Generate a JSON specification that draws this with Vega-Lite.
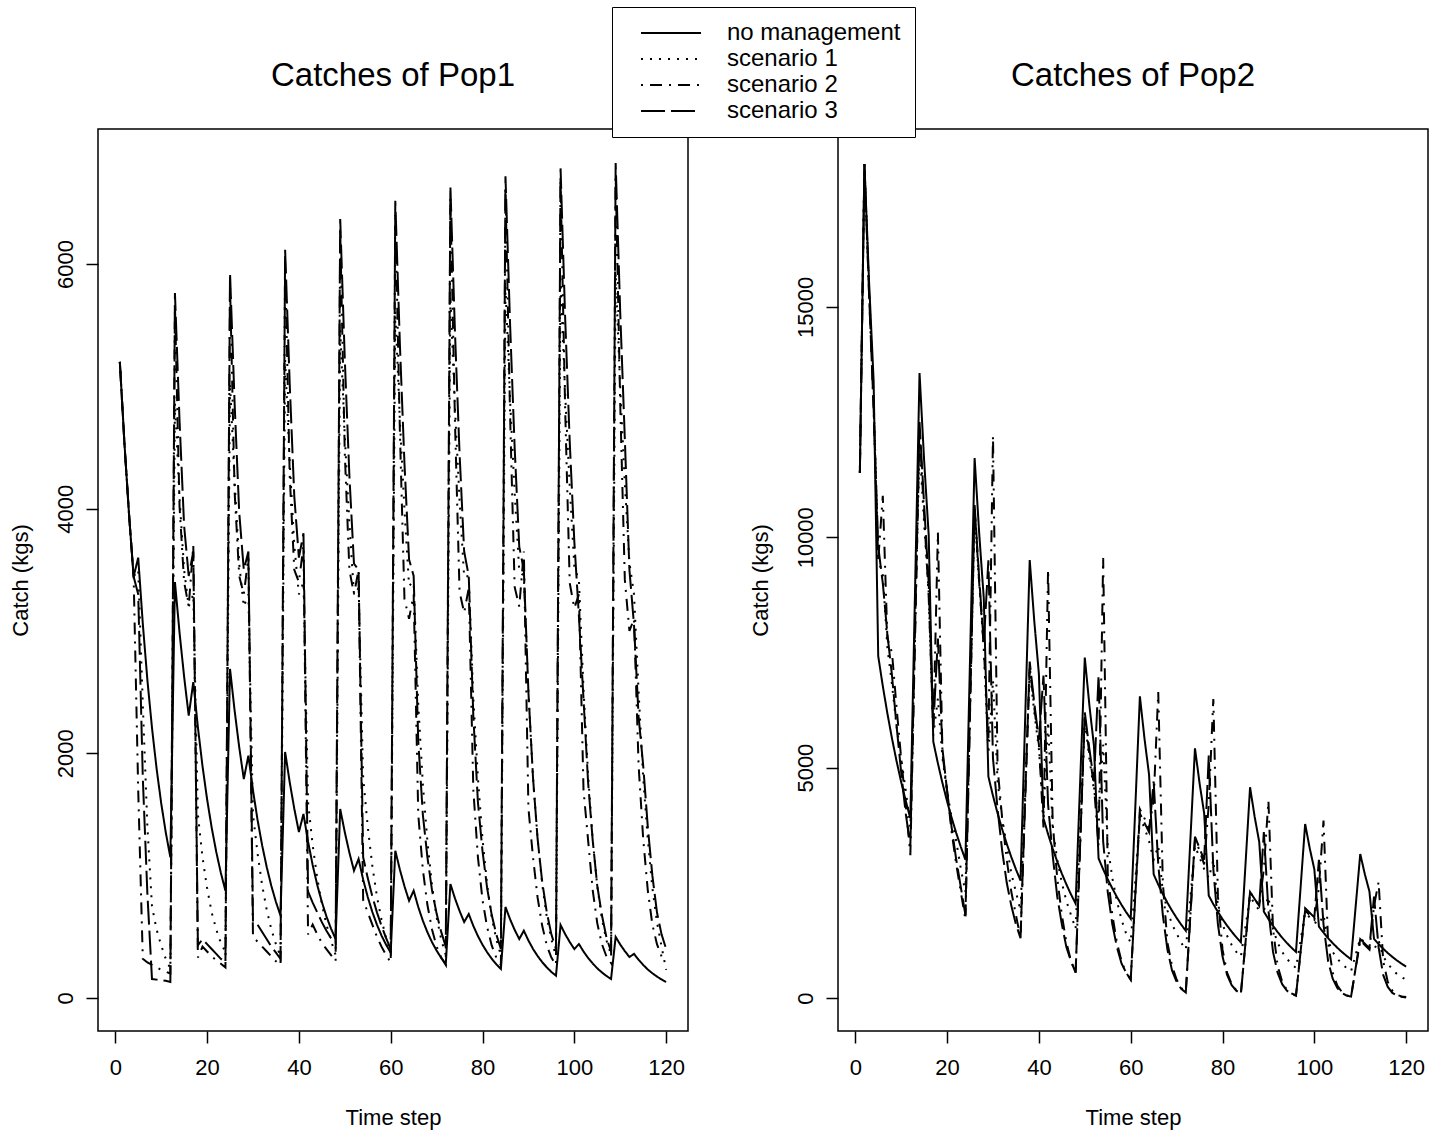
{
"$schema": "https://vega.github.io/schema/vega-lite/v6.json",
"background": "white",
"padding": {"top": 6, "left": 8, "right": 5, "bottom": 5},
"config": {
  "font": "Liberation Sans",
  "view": {"stroke": "black", "strokeWidth": 1.5},
  "axis": {"domain": false, "grid": false, "tickColor": "black", "tickWidth": 1.5, "tickSize": 12, "labelFontSize": 22, "labelColor": "black", "titleFontSize": 22, "titleFontWeight": "normal", "titleColor": "black"},
  "axisX": {"labelPadding": 14, "titlePadding": 29},
  "axisY": {"labelAngle": 270, "labelAlign": "center", "labelBaseline": "bottom", "labelPadding": 9, "titlePadding": 22},
  "title": {"fontSize": 33, "fontWeight": "normal", "color": "black", "anchor": "middle", "offset": 36}
},
"datasets": {
"pop1": [
{"t":1,"s":"no management","v":5200},{"t":2,"s":"no management","v":4534},{"t":3,"s":"no management","v":3954},{"t":4,"s":"no management","v":3445},{"t":5,"s":"no management","v":3600},{"t":6,"s":"no management","v":3059},{"t":7,"s":"no management","v":2599},{"t":8,"s":"no management","v":2208},{"t":9,"s":"no management","v":1876},{"t":10,"s":"no management","v":1594},{"t":11,"s":"no management","v":1354},{"t":12,"s":"no management","v":1150},
{"t":13,"s":"no management","v":3400},{"t":14,"s":"no management","v":2988},{"t":15,"s":"no management","v":2627},{"t":16,"s":"no management","v":2308},{"t":17,"s":"no management","v":2583},{"t":18,"s":"no management","v":2214},{"t":19,"s":"no management","v":1897},{"t":20,"s":"no management","v":1626},{"t":21,"s":"no management","v":1393},{"t":22,"s":"no management","v":1194},{"t":23,"s":"no management","v":1023},{"t":24,"s":"no management","v":877},
{"t":25,"s":"no management","v":2690},{"t":26,"s":"no management","v":2349},{"t":27,"s":"no management","v":2050},{"t":28,"s":"no management","v":1790},{"t":29,"s":"no management","v":1981},{"t":30,"s":"no management","v":1698},{"t":31,"s":"no management","v":1455},{"t":32,"s":"no management","v":1247},{"t":33,"s":"no management","v":1069},{"t":34,"s":"no management","v":916},{"t":35,"s":"no management","v":785},{"t":36,"s":"no management","v":673},
{"t":37,"s":"no management","v":2011},{"t":38,"s":"no management","v":1764},{"t":39,"s":"no management","v":1547},{"t":40,"s":"no management","v":1357},{"t":41,"s":"no management","v":1504},{"t":42,"s":"no management","v":1278},{"t":43,"s":"no management","v":1087},{"t":44,"s":"no management","v":924},{"t":45,"s":"no management","v":785},{"t":46,"s":"no management","v":667},{"t":47,"s":"no management","v":567},{"t":48,"s":"no management","v":482},
{"t":49,"s":"no management","v":1545},{"t":50,"s":"no management","v":1355},{"t":51,"s":"no management","v":1188},{"t":52,"s":"no management","v":1041},{"t":53,"s":"no management","v":1136},{"t":54,"s":"no management","v":968},{"t":55,"s":"no management","v":825},{"t":56,"s":"no management","v":703},{"t":57,"s":"no management","v":599},{"t":58,"s":"no management","v":510},{"t":59,"s":"no management","v":435},{"t":60,"s":"no management","v":370},
{"t":61,"s":"no management","v":1204},{"t":62,"s":"no management","v":1049},{"t":63,"s":"no management","v":913},{"t":64,"s":"no management","v":795},{"t":65,"s":"no management","v":877},{"t":66,"s":"no management","v":744},{"t":67,"s":"no management","v":632},{"t":68,"s":"no management","v":537},{"t":69,"s":"no management","v":456},{"t":70,"s":"no management","v":387},{"t":71,"s":"no management","v":328},{"t":72,"s":"no management","v":278},
{"t":73,"s":"no management","v":932},{"t":74,"s":"no management","v":814},{"t":75,"s":"no management","v":711},{"t":76,"s":"no management","v":621},{"t":77,"s":"no management","v":686},{"t":78,"s":"no management","v":589},{"t":79,"s":"no management","v":506},{"t":80,"s":"no management","v":435},{"t":81,"s":"no management","v":374},{"t":82,"s":"no management","v":321},{"t":83,"s":"no management","v":276},{"t":84,"s":"no management","v":237},
{"t":85,"s":"no management","v":744},{"t":86,"s":"no management","v":644},{"t":87,"s":"no management","v":557},{"t":88,"s":"no management","v":482},{"t":89,"s":"no management","v":550},{"t":90,"s":"no management","v":470},{"t":91,"s":"no management","v":401},{"t":92,"s":"no management","v":343},{"t":93,"s":"no management","v":293},{"t":94,"s":"no management","v":250},{"t":95,"s":"no management","v":213},{"t":96,"s":"no management","v":182},
{"t":97,"s":"no management","v":597},{"t":98,"s":"no management","v":522},{"t":99,"s":"no management","v":457},{"t":100,"s":"no management","v":400},{"t":101,"s":"no management","v":441},{"t":102,"s":"no management","v":380},{"t":103,"s":"no management","v":327},{"t":104,"s":"no management","v":282},{"t":105,"s":"no management","v":242},{"t":106,"s":"no management","v":209},{"t":107,"s":"no management","v":180},{"t":108,"s":"no management","v":155},
{"t":109,"s":"no management","v":499},{"t":110,"s":"no management","v":437},{"t":111,"s":"no management","v":383},{"t":112,"s":"no management","v":335},{"t":113,"s":"no management","v":360},{"t":114,"s":"no management","v":312},{"t":115,"s":"no management","v":270},{"t":116,"s":"no management","v":233},{"t":117,"s":"no management","v":202},{"t":118,"s":"no management","v":175},{"t":119,"s":"no management","v":151},{"t":120,"s":"no management","v":131},
{"t":1,"s":"scenario 1","v":5200},{"t":2,"s":"scenario 1","v":4534},{"t":3,"s":"scenario 1","v":3954},{"t":4,"s":"scenario 1","v":3445},{"t":5,"s":"scenario 1","v":3500},{"t":6,"s":"scenario 1","v":2400},{"t":7,"s":"scenario 1","v":1400},{"t":8,"s":"scenario 1","v":750},{"t":9,"s":"scenario 1","v":560},{"t":10,"s":"scenario 1","v":430},{"t":11,"s":"scenario 1","v":320},{"t":12,"s":"scenario 1","v":240},
{"t":13,"s":"scenario 1","v":4863},{"t":14,"s":"scenario 1","v":4090},{"t":15,"s":"scenario 1","v":3500},{"t":16,"s":"scenario 1","v":3200},{"t":17,"s":"scenario 1","v":3300},{"t":18,"s":"scenario 1","v":1500},{"t":19,"s":"scenario 1","v":1150},{"t":20,"s":"scenario 1","v":900},{"t":21,"s":"scenario 1","v":700},{"t":22,"s":"scenario 1","v":560},{"t":23,"s":"scenario 1","v":450},{"t":24,"s":"scenario 1","v":375},
{"t":25,"s":"scenario 1","v":5026},{"t":26,"s":"scenario 1","v":4220},{"t":27,"s":"scenario 1","v":3550},{"t":28,"s":"scenario 1","v":3200},{"t":29,"s":"scenario 1","v":3300},{"t":30,"s":"scenario 1","v":1500},{"t":31,"s":"scenario 1","v":1180},{"t":32,"s":"scenario 1","v":920},{"t":33,"s":"scenario 1","v":720},{"t":34,"s":"scenario 1","v":560},{"t":35,"s":"scenario 1","v":440},{"t":36,"s":"scenario 1","v":340},
{"t":37,"s":"scenario 1","v":5217},{"t":38,"s":"scenario 1","v":4380},{"t":39,"s":"scenario 1","v":3700},{"t":40,"s":"scenario 1","v":3300},{"t":41,"s":"scenario 1","v":3400},{"t":42,"s":"scenario 1","v":1600},{"t":43,"s":"scenario 1","v":1250},{"t":44,"s":"scenario 1","v":980},{"t":45,"s":"scenario 1","v":770},{"t":46,"s":"scenario 1","v":600},{"t":47,"s":"scenario 1","v":470},{"t":48,"s":"scenario 1","v":350},
{"t":49,"s":"scenario 1","v":5468},{"t":50,"s":"scenario 1","v":4590},{"t":51,"s":"scenario 1","v":3880},{"t":52,"s":"scenario 1","v":3300},{"t":53,"s":"scenario 1","v":3350},{"t":54,"s":"scenario 1","v":1800},{"t":55,"s":"scenario 1","v":1400},{"t":56,"s":"scenario 1","v":1080},{"t":57,"s":"scenario 1","v":830},{"t":58,"s":"scenario 1","v":640},{"t":59,"s":"scenario 1","v":490},{"t":60,"s":"scenario 1","v":370},
{"t":61,"s":"scenario 1","v":5618},{"t":62,"s":"scenario 1","v":4720},{"t":63,"s":"scenario 1","v":3990},{"t":64,"s":"scenario 1","v":3370},{"t":65,"s":"scenario 1","v":3400},{"t":66,"s":"scenario 1","v":2400},{"t":67,"s":"scenario 1","v":1750},{"t":68,"s":"scenario 1","v":1280},{"t":69,"s":"scenario 1","v":920},{"t":70,"s":"scenario 1","v":660},{"t":71,"s":"scenario 1","v":480},{"t":72,"s":"scenario 1","v":350},
{"t":73,"s":"scenario 1","v":5737},{"t":74,"s":"scenario 1","v":4820},{"t":75,"s":"scenario 1","v":4070},{"t":76,"s":"scenario 1","v":3440},{"t":77,"s":"scenario 1","v":3450},{"t":78,"s":"scenario 1","v":2450},{"t":79,"s":"scenario 1","v":1800},{"t":80,"s":"scenario 1","v":1300},{"t":81,"s":"scenario 1","v":930},{"t":82,"s":"scenario 1","v":660},{"t":83,"s":"scenario 1","v":480},{"t":84,"s":"scenario 1","v":350},
{"t":85,"s":"scenario 1","v":5817},{"t":86,"s":"scenario 1","v":4890},{"t":87,"s":"scenario 1","v":4130},{"t":88,"s":"scenario 1","v":3490},{"t":89,"s":"scenario 1","v":3450},{"t":90,"s":"scenario 1","v":2500},{"t":91,"s":"scenario 1","v":1800},{"t":92,"s":"scenario 1","v":1300},{"t":93,"s":"scenario 1","v":930},{"t":94,"s":"scenario 1","v":660},{"t":95,"s":"scenario 1","v":480},{"t":96,"s":"scenario 1","v":340},
{"t":97,"s":"scenario 1","v":5882},{"t":98,"s":"scenario 1","v":4941},{"t":99,"s":"scenario 1","v":4176},{"t":100,"s":"scenario 1","v":3529},{"t":101,"s":"scenario 1","v":3412},{"t":102,"s":"scenario 1","v":2529},{"t":103,"s":"scenario 1","v":1823},{"t":104,"s":"scenario 1","v":1294},{"t":105,"s":"scenario 1","v":912},{"t":106,"s":"scenario 1","v":647},{"t":107,"s":"scenario 1","v":471},{"t":108,"s":"scenario 1","v":353},
{"t":109,"s":"scenario 1","v":5926},{"t":110,"s":"scenario 1","v":4980},{"t":111,"s":"scenario 1","v":4210},{"t":112,"s":"scenario 1","v":3560},{"t":113,"s":"scenario 1","v":3300},{"t":114,"s":"scenario 1","v":2500},{"t":115,"s":"scenario 1","v":1800},{"t":116,"s":"scenario 1","v":1300},{"t":117,"s":"scenario 1","v":900},{"t":118,"s":"scenario 1","v":620},{"t":119,"s":"scenario 1","v":420},{"t":120,"s":"scenario 1","v":230},
{"t":1,"s":"scenario 2","v":5200},{"t":2,"s":"scenario 2","v":4534},{"t":3,"s":"scenario 2","v":3954},{"t":4,"s":"scenario 2","v":3445},{"t":5,"s":"scenario 2","v":1700},{"t":6,"s":"scenario 2","v":320},{"t":7,"s":"scenario 2","v":290},{"t":8,"s":"scenario 2","v":270},{"t":9,"s":"scenario 2","v":250},{"t":10,"s":"scenario 2","v":230},{"t":11,"s":"scenario 2","v":215},{"t":12,"s":"scenario 2","v":200},
{"t":13,"s":"scenario 2","v":5663},{"t":14,"s":"scenario 2","v":4020},{"t":15,"s":"scenario 2","v":3400},{"t":16,"s":"scenario 2","v":3200},{"t":17,"s":"scenario 2","v":3700},{"t":18,"s":"scenario 2","v":330},{"t":19,"s":"scenario 2","v":420},{"t":20,"s":"scenario 2","v":380},{"t":21,"s":"scenario 2","v":340},{"t":22,"s":"scenario 2","v":310},{"t":23,"s":"scenario 2","v":280},{"t":24,"s":"scenario 2","v":250},
{"t":25,"s":"scenario 2","v":5826},{"t":26,"s":"scenario 2","v":4140},{"t":27,"s":"scenario 2","v":3450},{"t":28,"s":"scenario 2","v":3300},{"t":29,"s":"scenario 2","v":3600},{"t":30,"s":"scenario 2","v":500},{"t":31,"s":"scenario 2","v":460},{"t":32,"s":"scenario 2","v":420},{"t":33,"s":"scenario 2","v":380},{"t":34,"s":"scenario 2","v":340},{"t":35,"s":"scenario 2","v":300},{"t":36,"s":"scenario 2","v":270},
{"t":37,"s":"scenario 2","v":6017},{"t":38,"s":"scenario 2","v":4270},{"t":39,"s":"scenario 2","v":3500},{"t":40,"s":"scenario 2","v":3400},{"t":41,"s":"scenario 2","v":3700},{"t":42,"s":"scenario 2","v":520},{"t":43,"s":"scenario 2","v":600},{"t":44,"s":"scenario 2","v":520},{"t":45,"s":"scenario 2","v":450},{"t":46,"s":"scenario 2","v":400},{"t":47,"s":"scenario 2","v":350},{"t":48,"s":"scenario 2","v":300},
{"t":49,"s":"scenario 2","v":6268},{"t":50,"s":"scenario 2","v":4450},{"t":51,"s":"scenario 2","v":3500},{"t":52,"s":"scenario 2","v":3300},{"t":53,"s":"scenario 2","v":3500},{"t":54,"s":"scenario 2","v":800},{"t":55,"s":"scenario 2","v":700},{"t":56,"s":"scenario 2","v":600},{"t":57,"s":"scenario 2","v":500},{"t":58,"s":"scenario 2","v":420},{"t":59,"s":"scenario 2","v":350},{"t":60,"s":"scenario 2","v":290},
{"t":61,"s":"scenario 2","v":6418},{"t":62,"s":"scenario 2","v":4630},{"t":63,"s":"scenario 2","v":3260},{"t":64,"s":"scenario 2","v":3100},{"t":65,"s":"scenario 2","v":3300},{"t":66,"s":"scenario 2","v":1500},{"t":67,"s":"scenario 2","v":1050},{"t":68,"s":"scenario 2","v":760},{"t":69,"s":"scenario 2","v":560},{"t":70,"s":"scenario 2","v":420},{"t":71,"s":"scenario 2","v":330},{"t":72,"s":"scenario 2","v":270},
{"t":73,"s":"scenario 2","v":6537},{"t":74,"s":"scenario 2","v":4710},{"t":75,"s":"scenario 2","v":3320},{"t":76,"s":"scenario 2","v":3150},{"t":77,"s":"scenario 2","v":3350},{"t":78,"s":"scenario 2","v":1700},{"t":79,"s":"scenario 2","v":1150},{"t":80,"s":"scenario 2","v":800},{"t":81,"s":"scenario 2","v":580},{"t":82,"s":"scenario 2","v":430},{"t":83,"s":"scenario 2","v":330},{"t":84,"s":"scenario 2","v":270},
{"t":85,"s":"scenario 2","v":6617},{"t":86,"s":"scenario 2","v":4770},{"t":87,"s":"scenario 2","v":3360},{"t":88,"s":"scenario 2","v":3200},{"t":89,"s":"scenario 2","v":3650},{"t":90,"s":"scenario 2","v":1550},{"t":91,"s":"scenario 2","v":1150},{"t":92,"s":"scenario 2","v":820},{"t":93,"s":"scenario 2","v":590},{"t":94,"s":"scenario 2","v":430},{"t":95,"s":"scenario 2","v":330},{"t":96,"s":"scenario 2","v":270},
{"t":97,"s":"scenario 2","v":6682},{"t":98,"s":"scenario 2","v":4815},{"t":99,"s":"scenario 2","v":3391},{"t":100,"s":"scenario 2","v":3187},{"t":101,"s":"scenario 2","v":3300},{"t":102,"s":"scenario 2","v":1700},{"t":103,"s":"scenario 2","v":1289},{"t":104,"s":"scenario 2","v":882},{"t":105,"s":"scenario 2","v":610},{"t":106,"s":"scenario 2","v":441},{"t":107,"s":"scenario 2","v":339},{"t":108,"s":"scenario 2","v":285},
{"t":109,"s":"scenario 2","v":6726},{"t":110,"s":"scenario 2","v":4850},{"t":111,"s":"scenario 2","v":3420},{"t":112,"s":"scenario 2","v":3000},{"t":113,"s":"scenario 2","v":3100},{"t":114,"s":"scenario 2","v":1900},{"t":115,"s":"scenario 2","v":1300},{"t":116,"s":"scenario 2","v":880},{"t":117,"s":"scenario 2","v":600},{"t":118,"s":"scenario 2","v":440},{"t":119,"s":"scenario 2","v":340},{"t":120,"s":"scenario 2","v":300},
{"t":1,"s":"scenario 3","v":5200},{"t":2,"s":"scenario 3","v":4534},{"t":3,"s":"scenario 3","v":3954},{"t":4,"s":"scenario 3","v":3445},{"t":5,"s":"scenario 3","v":3300},{"t":6,"s":"scenario 3","v":1800},{"t":7,"s":"scenario 3","v":850},{"t":8,"s":"scenario 3","v":155},{"t":9,"s":"scenario 3","v":150},{"t":10,"s":"scenario 3","v":145},{"t":11,"s":"scenario 3","v":140},{"t":12,"s":"scenario 3","v":130},
{"t":13,"s":"scenario 3","v":5763},{"t":14,"s":"scenario 3","v":4720},{"t":15,"s":"scenario 3","v":3860},{"t":16,"s":"scenario 3","v":3450},{"t":17,"s":"scenario 3","v":3650},{"t":18,"s":"scenario 3","v":430},{"t":19,"s":"scenario 3","v":480},{"t":20,"s":"scenario 3","v":440},{"t":21,"s":"scenario 3","v":400},{"t":22,"s":"scenario 3","v":360},{"t":23,"s":"scenario 3","v":320},{"t":24,"s":"scenario 3","v":290},
{"t":25,"s":"scenario 3","v":5926},{"t":26,"s":"scenario 3","v":4860},{"t":27,"s":"scenario 3","v":3970},{"t":28,"s":"scenario 3","v":3500},{"t":29,"s":"scenario 3","v":3650},{"t":30,"s":"scenario 3","v":620},{"t":31,"s":"scenario 3","v":600},{"t":32,"s":"scenario 3","v":540},{"t":33,"s":"scenario 3","v":480},{"t":34,"s":"scenario 3","v":420},{"t":35,"s":"scenario 3","v":370},{"t":36,"s":"scenario 3","v":320},
{"t":37,"s":"scenario 3","v":6117},{"t":38,"s":"scenario 3","v":5020},{"t":39,"s":"scenario 3","v":4100},{"t":40,"s":"scenario 3","v":3600},{"t":41,"s":"scenario 3","v":3800},{"t":42,"s":"scenario 3","v":870},{"t":43,"s":"scenario 3","v":780},{"t":44,"s":"scenario 3","v":700},{"t":45,"s":"scenario 3","v":620},{"t":46,"s":"scenario 3","v":550},{"t":47,"s":"scenario 3","v":490},{"t":48,"s":"scenario 3","v":450},
{"t":49,"s":"scenario 3","v":6368},{"t":50,"s":"scenario 3","v":5220},{"t":51,"s":"scenario 3","v":4270},{"t":52,"s":"scenario 3","v":3550},{"t":53,"s":"scenario 3","v":3500},{"t":54,"s":"scenario 3","v":1150},{"t":55,"s":"scenario 3","v":980},{"t":56,"s":"scenario 3","v":830},{"t":57,"s":"scenario 3","v":700},{"t":58,"s":"scenario 3","v":590},{"t":59,"s":"scenario 3","v":490},{"t":60,"s":"scenario 3","v":400},
{"t":61,"s":"scenario 3","v":6518},{"t":62,"s":"scenario 3","v":5345},{"t":63,"s":"scenario 3","v":4367},{"t":64,"s":"scenario 3","v":3585},{"t":65,"s":"scenario 3","v":3450},{"t":66,"s":"scenario 3","v":2100},{"t":67,"s":"scenario 3","v":1500},{"t":68,"s":"scenario 3","v":1150},{"t":69,"s":"scenario 3","v":880},{"t":70,"s":"scenario 3","v":690},{"t":71,"s":"scenario 3","v":540},{"t":72,"s":"scenario 3","v":420},
{"t":73,"s":"scenario 3","v":6637},{"t":74,"s":"scenario 3","v":5440},{"t":75,"s":"scenario 3","v":4450},{"t":76,"s":"scenario 3","v":3650},{"t":77,"s":"scenario 3","v":3450},{"t":78,"s":"scenario 3","v":2300},{"t":79,"s":"scenario 3","v":1600},{"t":80,"s":"scenario 3","v":1200},{"t":81,"s":"scenario 3","v":900},{"t":82,"s":"scenario 3","v":680},{"t":83,"s":"scenario 3","v":520},{"t":84,"s":"scenario 3","v":400},
{"t":85,"s":"scenario 3","v":6717},{"t":86,"s":"scenario 3","v":5510},{"t":87,"s":"scenario 3","v":4500},{"t":88,"s":"scenario 3","v":3690},{"t":89,"s":"scenario 3","v":3500},{"t":90,"s":"scenario 3","v":2500},{"t":91,"s":"scenario 3","v":1800},{"t":92,"s":"scenario 3","v":1300},{"t":93,"s":"scenario 3","v":950},{"t":94,"s":"scenario 3","v":700},{"t":95,"s":"scenario 3","v":520},{"t":96,"s":"scenario 3","v":400},
{"t":97,"s":"scenario 3","v":6782},{"t":98,"s":"scenario 3","v":5561},{"t":99,"s":"scenario 3","v":4544},{"t":100,"s":"scenario 3","v":3730},{"t":101,"s":"scenario 3","v":3120},{"t":102,"s":"scenario 3","v":2442},{"t":103,"s":"scenario 3","v":1763},{"t":104,"s":"scenario 3","v":1289},{"t":105,"s":"scenario 3","v":916},{"t":106,"s":"scenario 3","v":678},{"t":107,"s":"scenario 3","v":495},{"t":108,"s":"scenario 3","v":380},
{"t":109,"s":"scenario 3","v":6826},{"t":110,"s":"scenario 3","v":5600},{"t":111,"s":"scenario 3","v":4570},{"t":112,"s":"scenario 3","v":3500},{"t":113,"s":"scenario 3","v":3050},{"t":114,"s":"scenario 3","v":2300},{"t":115,"s":"scenario 3","v":1900},{"t":116,"s":"scenario 3","v":1400},{"t":117,"s":"scenario 3","v":1000},{"t":118,"s":"scenario 3","v":700},{"t":119,"s":"scenario 3","v":520},{"t":120,"s":"scenario 3","v":400}
],
"pop2": [
{"t":1,"s":"no management","v":11400},{"t":2,"s":"no management","v":18100},{"t":3,"s":"no management","v":15566},{"t":4,"s":"no management","v":13394},{"t":5,"s":"no management","v":7421},{"t":6,"s":"no management","v":6770},{"t":7,"s":"no management","v":6175},{"t":8,"s":"no management","v":5633},{"t":9,"s":"no management","v":5139},{"t":10,"s":"no management","v":4688},{"t":11,"s":"no management","v":4276},{"t":12,"s":"no management","v":3900},{"t":13,"s":"no management","v":8733},
{"t":14,"s":"no management","v":13566},{"t":15,"s":"no management","v":11667},{"t":16,"s":"no management","v":10039},{"t":17,"s":"no management","v":5562},{"t":18,"s":"no management","v":5093},{"t":19,"s":"no management","v":4663},{"t":20,"s":"no management","v":4269},{"t":21,"s":"no management","v":3909},{"t":22,"s":"no management","v":3579},{"t":23,"s":"no management","v":3277},{"t":24,"s":"no management","v":3000},{"t":25,"s":"no management","v":7360},
{"t":26,"s":"no management","v":11720},{"t":27,"s":"no management","v":10079},{"t":28,"s":"no management","v":8673},{"t":29,"s":"no management","v":4805},{"t":30,"s":"no management","v":4389},{"t":31,"s":"no management","v":4010},{"t":32,"s":"no management","v":3663},{"t":33,"s":"no management","v":3346},{"t":34,"s":"no management","v":3057},{"t":35,"s":"no management","v":2792},{"t":36,"s":"no management","v":2550},{"t":37,"s":"no management","v":6029},
{"t":38,"s":"no management","v":9507},{"t":39,"s":"no management","v":8176},{"t":40,"s":"no management","v":7035},{"t":41,"s":"no management","v":3898},{"t":42,"s":"no management","v":3556},{"t":43,"s":"no management","v":3244},{"t":44,"s":"no management","v":2960},{"t":45,"s":"no management","v":2700},{"t":46,"s":"no management","v":2463},{"t":47,"s":"no management","v":2247},{"t":48,"s":"no management","v":2050},{"t":49,"s":"no management","v":4719},
{"t":50,"s":"no management","v":7388},{"t":51,"s":"no management","v":6354},{"t":52,"s":"no management","v":5467},{"t":53,"s":"no management","v":3029},{"t":54,"s":"no management","v":2794},{"t":55,"s":"no management","v":2577},{"t":56,"s":"no management","v":2377},{"t":57,"s":"no management","v":2192},{"t":58,"s":"no management","v":2022},{"t":59,"s":"no management","v":1865},{"t":60,"s":"no management","v":1720},{"t":61,"s":"no management","v":4135},
{"t":62,"s":"no management","v":6549},{"t":63,"s":"no management","v":5632},{"t":64,"s":"no management","v":4846},{"t":65,"s":"no management","v":2685},{"t":66,"s":"no management","v":2461},{"t":67,"s":"no management","v":2256},{"t":68,"s":"no management","v":2068},{"t":69,"s":"no management","v":1896},{"t":70,"s":"no management","v":1738},{"t":71,"s":"no management","v":1593},{"t":72,"s":"no management","v":1460},{"t":73,"s":"no management","v":3440},
{"t":74,"s":"no management","v":5420},{"t":75,"s":"no management","v":4661},{"t":76,"s":"no management","v":4011},{"t":77,"s":"no management","v":2222},{"t":78,"s":"no management","v":2037},{"t":79,"s":"no management","v":1868},{"t":80,"s":"no management","v":1712},{"t":81,"s":"no management","v":1570},{"t":82,"s":"no management","v":1439},{"t":83,"s":"no management","v":1320},{"t":84,"s":"no management","v":1210},{"t":85,"s":"no management","v":2892},
{"t":86,"s":"no management","v":4574},{"t":87,"s":"no management","v":3934},{"t":88,"s":"no management","v":3385},{"t":89,"s":"no management","v":1875},{"t":90,"s":"no management","v":1714},{"t":91,"s":"no management","v":1567},{"t":92,"s":"no management","v":1432},{"t":93,"s":"no management","v":1309},{"t":94,"s":"no management","v":1197},{"t":95,"s":"no management","v":1094},{"t":96,"s":"no management","v":1000},{"t":97,"s":"no management","v":2389},
{"t":98,"s":"no management","v":3777},{"t":99,"s":"no management","v":3248},{"t":100,"s":"no management","v":2795},{"t":101,"s":"no management","v":1549},{"t":102,"s":"no management","v":1419},{"t":103,"s":"no management","v":1300},{"t":104,"s":"no management","v":1191},{"t":105,"s":"no management","v":1092},{"t":106,"s":"no management","v":1000},{"t":107,"s":"no management","v":917},{"t":108,"s":"no management","v":840},{"t":109,"s":"no management","v":1983},
{"t":110,"s":"no management","v":3126},{"t":111,"s":"no management","v":2688},{"t":112,"s":"no management","v":2313},{"t":113,"s":"no management","v":1282},{"t":114,"s":"no management","v":1171},{"t":115,"s":"no management","v":1070},{"t":116,"s":"no management","v":977},{"t":117,"s":"no management","v":892},{"t":118,"s":"no management","v":815},{"t":119,"s":"no management","v":745},{"t":120,"s":"no management","v":680},
{"t":1,"s":"scenario 1","v":11400},{"t":2,"s":"scenario 1","v":18100},{"t":3,"s":"scenario 1","v":15400},{"t":4,"s":"scenario 1","v":13000},{"t":5,"s":"scenario 1","v":9500},{"t":6,"s":"scenario 1","v":9200},{"t":7,"s":"scenario 1","v":7600},{"t":8,"s":"scenario 1","v":6800},{"t":9,"s":"scenario 1","v":5900},{"t":10,"s":"scenario 1","v":5200},{"t":11,"s":"scenario 1","v":4500},{"t":12,"s":"scenario 1","v":3700},{"t":13,"s":"scenario 1","v":7850},
{"t":14,"s":"scenario 1","v":12000},{"t":15,"s":"scenario 1","v":10300},{"t":16,"s":"scenario 1","v":8800},{"t":17,"s":"scenario 1","v":5700},{"t":18,"s":"scenario 1","v":6500},{"t":19,"s":"scenario 1","v":5200},{"t":20,"s":"scenario 1","v":4500},{"t":21,"s":"scenario 1","v":3900},{"t":22,"s":"scenario 1","v":3400},{"t":23,"s":"scenario 1","v":2800},{"t":24,"s":"scenario 1","v":2300},{"t":25,"s":"scenario 1","v":6400},
{"t":26,"s":"scenario 1","v":10500},{"t":27,"s":"scenario 1","v":9000},{"t":28,"s":"scenario 1","v":7600},{"t":29,"s":"scenario 1","v":5300},{"t":30,"s":"scenario 1","v":6900},{"t":31,"s":"scenario 1","v":4700},{"t":32,"s":"scenario 1","v":3900},{"t":33,"s":"scenario 1","v":3300},{"t":34,"s":"scenario 1","v":2700},{"t":35,"s":"scenario 1","v":2300},{"t":36,"s":"scenario 1","v":1900},{"t":37,"s":"scenario 1","v":4500},
{"t":38,"s":"scenario 1","v":7100},{"t":39,"s":"scenario 1","v":6200},{"t":40,"s":"scenario 1","v":5400},{"t":41,"s":"scenario 1","v":4000},{"t":42,"s":"scenario 1","v":6000},{"t":43,"s":"scenario 1","v":3700},{"t":44,"s":"scenario 1","v":3000},{"t":45,"s":"scenario 1","v":2500},{"t":46,"s":"scenario 1","v":2100},{"t":47,"s":"scenario 1","v":1800},{"t":48,"s":"scenario 1","v":1500},{"t":49,"s":"scenario 1","v":3750},
{"t":50,"s":"scenario 1","v":6000},{"t":51,"s":"scenario 1","v":5200},{"t":52,"s":"scenario 1","v":4500},{"t":53,"s":"scenario 1","v":4000},{"t":54,"s":"scenario 1","v":5500},{"t":55,"s":"scenario 1","v":3300},{"t":56,"s":"scenario 1","v":2600},{"t":57,"s":"scenario 1","v":2100},{"t":58,"s":"scenario 1","v":1700},{"t":59,"s":"scenario 1","v":1400},{"t":60,"s":"scenario 1","v":1200},{"t":61,"s":"scenario 1","v":2550},
{"t":62,"s":"scenario 1","v":3900},{"t":63,"s":"scenario 1","v":3700},{"t":64,"s":"scenario 1","v":3400},{"t":65,"s":"scenario 1","v":3000},{"t":66,"s":"scenario 1","v":3300},{"t":67,"s":"scenario 1","v":2300},{"t":68,"s":"scenario 1","v":1900},{"t":69,"s":"scenario 1","v":1600},{"t":70,"s":"scenario 1","v":1400},{"t":71,"s":"scenario 1","v":1200},{"t":72,"s":"scenario 1","v":1050},{"t":73,"s":"scenario 1","v":2175},
{"t":74,"s":"scenario 1","v":3300},{"t":75,"s":"scenario 1","v":3050},{"t":76,"s":"scenario 1","v":2800},{"t":77,"s":"scenario 1","v":2600},{"t":78,"s":"scenario 1","v":3000},{"t":79,"s":"scenario 1","v":2000},{"t":80,"s":"scenario 1","v":1600},{"t":81,"s":"scenario 1","v":1350},{"t":82,"s":"scenario 1","v":1150},{"t":83,"s":"scenario 1","v":1000},{"t":84,"s":"scenario 1","v":900},{"t":85,"s":"scenario 1","v":1550},
{"t":86,"s":"scenario 1","v":2200},{"t":87,"s":"scenario 1","v":2050},{"t":88,"s":"scenario 1","v":1900},{"t":89,"s":"scenario 1","v":1900},{"t":90,"s":"scenario 1","v":2200},{"t":91,"s":"scenario 1","v":1500},{"t":92,"s":"scenario 1","v":1200},{"t":93,"s":"scenario 1","v":1000},{"t":94,"s":"scenario 1","v":850},{"t":95,"s":"scenario 1","v":750},{"t":96,"s":"scenario 1","v":650},{"t":97,"s":"scenario 1","v":1250},
{"t":98,"s":"scenario 1","v":1850},{"t":99,"s":"scenario 1","v":1750},{"t":100,"s":"scenario 1","v":1650},{"t":101,"s":"scenario 1","v":1600},{"t":102,"s":"scenario 1","v":1800},{"t":103,"s":"scenario 1","v":1250},{"t":104,"s":"scenario 1","v":1000},{"t":105,"s":"scenario 1","v":850},{"t":106,"s":"scenario 1","v":750},{"t":107,"s":"scenario 1","v":650},{"t":108,"s":"scenario 1","v":580},{"t":109,"s":"scenario 1","v":940},
{"t":110,"s":"scenario 1","v":1300},{"t":111,"s":"scenario 1","v":1200},{"t":112,"s":"scenario 1","v":1100},{"t":113,"s":"scenario 1","v":1050},{"t":114,"s":"scenario 1","v":1250},{"t":115,"s":"scenario 1","v":900},{"t":116,"s":"scenario 1","v":750},{"t":117,"s":"scenario 1","v":620},{"t":118,"s":"scenario 1","v":520},{"t":119,"s":"scenario 1","v":450},{"t":120,"s":"scenario 1","v":400},
{"t":1,"s":"scenario 2","v":11400},{"t":2,"s":"scenario 2","v":18100},{"t":3,"s":"scenario 2","v":15300},{"t":4,"s":"scenario 2","v":12800},{"t":5,"s":"scenario 2","v":9500},{"t":6,"s":"scenario 2","v":10900},{"t":7,"s":"scenario 2","v":7800},{"t":8,"s":"scenario 2","v":7500},{"t":9,"s":"scenario 2","v":6300},{"t":10,"s":"scenario 2","v":5200},{"t":11,"s":"scenario 2","v":4200},{"t":12,"s":"scenario 2","v":3100},{"t":13,"s":"scenario 2","v":7700},
{"t":14,"s":"scenario 2","v":12300},{"t":15,"s":"scenario 2","v":10500},{"t":16,"s":"scenario 2","v":8700},{"t":17,"s":"scenario 2","v":5800},{"t":18,"s":"scenario 2","v":10100},{"t":19,"s":"scenario 2","v":5300},{"t":20,"s":"scenario 2","v":4500},{"t":21,"s":"scenario 2","v":3600},{"t":22,"s":"scenario 2","v":2900},{"t":23,"s":"scenario 2","v":2300},{"t":24,"s":"scenario 2","v":1700},{"t":25,"s":"scenario 2","v":6175},
{"t":26,"s":"scenario 2","v":10650},{"t":27,"s":"scenario 2","v":9000},{"t":28,"s":"scenario 2","v":7600},{"t":29,"s":"scenario 2","v":5600},{"t":30,"s":"scenario 2","v":12200},{"t":31,"s":"scenario 2","v":5000},{"t":32,"s":"scenario 2","v":3900},{"t":33,"s":"scenario 2","v":3000},{"t":34,"s":"scenario 2","v":2300},{"t":35,"s":"scenario 2","v":1800},{"t":36,"s":"scenario 2","v":1300},{"t":37,"s":"scenario 2","v":4250},
{"t":38,"s":"scenario 2","v":7200},{"t":39,"s":"scenario 2","v":6300},{"t":40,"s":"scenario 2","v":5500},{"t":41,"s":"scenario 2","v":3700},{"t":42,"s":"scenario 2","v":9300},{"t":43,"s":"scenario 2","v":3800},{"t":44,"s":"scenario 2","v":2600},{"t":45,"s":"scenario 2","v":1800},{"t":46,"s":"scenario 2","v":1200},{"t":47,"s":"scenario 2","v":800},{"t":48,"s":"scenario 2","v":550},{"t":49,"s":"scenario 2","v":3325},
{"t":50,"s":"scenario 2","v":6100},{"t":51,"s":"scenario 2","v":5300},{"t":52,"s":"scenario 2","v":4600},{"t":53,"s":"scenario 2","v":3300},{"t":54,"s":"scenario 2","v":9550},{"t":55,"s":"scenario 2","v":2700},{"t":56,"s":"scenario 2","v":1800},{"t":57,"s":"scenario 2","v":1200},{"t":58,"s":"scenario 2","v":800},{"t":59,"s":"scenario 2","v":550},{"t":60,"s":"scenario 2","v":400},{"t":61,"s":"scenario 2","v":2250},
{"t":62,"s":"scenario 2","v":4100},{"t":63,"s":"scenario 2","v":3900},{"t":64,"s":"scenario 2","v":3670},{"t":65,"s":"scenario 2","v":4300},{"t":66,"s":"scenario 2","v":6640},{"t":67,"s":"scenario 2","v":2500},{"t":68,"s":"scenario 2","v":1200},{"t":69,"s":"scenario 2","v":700},{"t":70,"s":"scenario 2","v":400},{"t":71,"s":"scenario 2","v":220},{"t":72,"s":"scenario 2","v":130},{"t":73,"s":"scenario 2","v":1790},
{"t":74,"s":"scenario 2","v":3450},{"t":75,"s":"scenario 2","v":3200},{"t":76,"s":"scenario 2","v":2900},{"t":77,"s":"scenario 2","v":4200},{"t":78,"s":"scenario 2","v":6490},{"t":79,"s":"scenario 2","v":2200},{"t":80,"s":"scenario 2","v":1050},{"t":81,"s":"scenario 2","v":550},{"t":82,"s":"scenario 2","v":300},{"t":83,"s":"scenario 2","v":170},{"t":84,"s":"scenario 2","v":100},{"t":85,"s":"scenario 2","v":1200},
{"t":86,"s":"scenario 2","v":2300},{"t":87,"s":"scenario 2","v":2150},{"t":88,"s":"scenario 2","v":2000},{"t":89,"s":"scenario 2","v":2800},{"t":90,"s":"scenario 2","v":4280},{"t":91,"s":"scenario 2","v":1500},{"t":92,"s":"scenario 2","v":700},{"t":93,"s":"scenario 2","v":350},{"t":94,"s":"scenario 2","v":180},{"t":95,"s":"scenario 2","v":100},{"t":96,"s":"scenario 2","v":60},{"t":97,"s":"scenario 2","v":980},
{"t":98,"s":"scenario 2","v":1900},{"t":99,"s":"scenario 2","v":1800},{"t":100,"s":"scenario 2","v":1700},{"t":101,"s":"scenario 2","v":2400},{"t":102,"s":"scenario 2","v":3850},{"t":103,"s":"scenario 2","v":1200},{"t":104,"s":"scenario 2","v":550},{"t":105,"s":"scenario 2","v":270},{"t":106,"s":"scenario 2","v":130},{"t":107,"s":"scenario 2","v":60},{"t":108,"s":"scenario 2","v":30},{"t":109,"s":"scenario 2","v":640},
{"t":110,"s":"scenario 2","v":1250},{"t":111,"s":"scenario 2","v":1150},{"t":112,"s":"scenario 2","v":1050},{"t":113,"s":"scenario 2","v":2000},{"t":114,"s":"scenario 2","v":2520},{"t":115,"s":"scenario 2","v":800},{"t":116,"s":"scenario 2","v":350},{"t":117,"s":"scenario 2","v":160},{"t":118,"s":"scenario 2","v":70},{"t":119,"s":"scenario 2","v":35},{"t":120,"s":"scenario 2","v":20},
{"t":1,"s":"scenario 3","v":11400},{"t":2,"s":"scenario 3","v":18100},{"t":3,"s":"scenario 3","v":15300},{"t":4,"s":"scenario 3","v":12800},{"t":5,"s":"scenario 3","v":9800},{"t":6,"s":"scenario 3","v":9000},{"t":7,"s":"scenario 3","v":7900},{"t":8,"s":"scenario 3","v":7000},{"t":9,"s":"scenario 3","v":5900},{"t":10,"s":"scenario 3","v":4900},{"t":11,"s":"scenario 3","v":4000},{"t":12,"s":"scenario 3","v":3300},{"t":13,"s":"scenario 3","v":7900},
{"t":14,"s":"scenario 3","v":12500},{"t":15,"s":"scenario 3","v":10700},{"t":16,"s":"scenario 3","v":9000},{"t":17,"s":"scenario 3","v":5900},{"t":18,"s":"scenario 3","v":7800},{"t":19,"s":"scenario 3","v":5400},{"t":20,"s":"scenario 3","v":4500},{"t":21,"s":"scenario 3","v":3700},{"t":22,"s":"scenario 3","v":3000},{"t":23,"s":"scenario 3","v":2400},{"t":24,"s":"scenario 3","v":1800},{"t":25,"s":"scenario 3","v":6250},
{"t":26,"s":"scenario 3","v":10700},{"t":27,"s":"scenario 3","v":9100},{"t":28,"s":"scenario 3","v":7700},{"t":29,"s":"scenario 3","v":9500},{"t":30,"s":"scenario 3","v":5200},{"t":31,"s":"scenario 3","v":4100},{"t":32,"s":"scenario 3","v":3200},{"t":33,"s":"scenario 3","v":2500},{"t":34,"s":"scenario 3","v":2000},{"t":35,"s":"scenario 3","v":1600},{"t":36,"s":"scenario 3","v":1300},{"t":37,"s":"scenario 3","v":4300},
{"t":38,"s":"scenario 3","v":7300},{"t":39,"s":"scenario 3","v":6400},{"t":40,"s":"scenario 3","v":5600},{"t":41,"s":"scenario 3","v":7000},{"t":42,"s":"scenario 3","v":4200},{"t":43,"s":"scenario 3","v":3100},{"t":44,"s":"scenario 3","v":2200},{"t":45,"s":"scenario 3","v":1600},{"t":46,"s":"scenario 3","v":1100},{"t":47,"s":"scenario 3","v":800},{"t":48,"s":"scenario 3","v":550},{"t":49,"s":"scenario 3","v":3375},
{"t":50,"s":"scenario 3","v":6200},{"t":51,"s":"scenario 3","v":5400},{"t":52,"s":"scenario 3","v":4700},{"t":53,"s":"scenario 3","v":7000},{"t":54,"s":"scenario 3","v":3400},{"t":55,"s":"scenario 3","v":2300},{"t":56,"s":"scenario 3","v":1600},{"t":57,"s":"scenario 3","v":1100},{"t":58,"s":"scenario 3","v":750},{"t":59,"s":"scenario 3","v":550},{"t":60,"s":"scenario 3","v":400},{"t":61,"s":"scenario 3","v":2200},
{"t":62,"s":"scenario 3","v":4000},{"t":63,"s":"scenario 3","v":3800},{"t":64,"s":"scenario 3","v":3600},{"t":65,"s":"scenario 3","v":4700},{"t":66,"s":"scenario 3","v":2900},{"t":67,"s":"scenario 3","v":1800},{"t":68,"s":"scenario 3","v":1050},{"t":69,"s":"scenario 3","v":600},{"t":70,"s":"scenario 3","v":350},{"t":71,"s":"scenario 3","v":200},{"t":72,"s":"scenario 3","v":120},{"t":73,"s":"scenario 3","v":1810},
{"t":74,"s":"scenario 3","v":3500},{"t":75,"s":"scenario 3","v":3250},{"t":76,"s":"scenario 3","v":3000},{"t":77,"s":"scenario 3","v":5260},{"t":78,"s":"scenario 3","v":2800},{"t":79,"s":"scenario 3","v":1600},{"t":80,"s":"scenario 3","v":900},{"t":81,"s":"scenario 3","v":500},{"t":82,"s":"scenario 3","v":280},{"t":83,"s":"scenario 3","v":160},{"t":84,"s":"scenario 3","v":90},{"t":85,"s":"scenario 3","v":1195},
{"t":86,"s":"scenario 3","v":2300},{"t":87,"s":"scenario 3","v":2150},{"t":88,"s":"scenario 3","v":2000},{"t":89,"s":"scenario 3","v":3600},{"t":90,"s":"scenario 3","v":1900},{"t":91,"s":"scenario 3","v":1000},{"t":92,"s":"scenario 3","v":550},{"t":93,"s":"scenario 3","v":300},{"t":94,"s":"scenario 3","v":160},{"t":95,"s":"scenario 3","v":90},{"t":96,"s":"scenario 3","v":50},{"t":97,"s":"scenario 3","v":1000},
{"t":98,"s":"scenario 3","v":1950},{"t":99,"s":"scenario 3","v":1850},{"t":100,"s":"scenario 3","v":1750},{"t":101,"s":"scenario 3","v":3000},{"t":102,"s":"scenario 3","v":1600},{"t":103,"s":"scenario 3","v":800},{"t":104,"s":"scenario 3","v":420},{"t":105,"s":"scenario 3","v":220},{"t":106,"s":"scenario 3","v":110},{"t":107,"s":"scenario 3","v":55},{"t":108,"s":"scenario 3","v":30},{"t":109,"s":"scenario 3","v":655},
{"t":110,"s":"scenario 3","v":1280},{"t":111,"s":"scenario 3","v":1180},{"t":112,"s":"scenario 3","v":1080},{"t":113,"s":"scenario 3","v":2200},{"t":114,"s":"scenario 3","v":1100},{"t":115,"s":"scenario 3","v":500},{"t":116,"s":"scenario 3","v":240},{"t":117,"s":"scenario 3","v":110},{"t":118,"s":"scenario 3","v":50},{"t":119,"s":"scenario 3","v":25},{"t":120,"s":"scenario 3","v":10}
]
},
"spacing": 59,
"resolve": {"scale": {"strokeDash": "shared"}, "legend": {"strokeDash": "shared"}},
"hconcat": [
{
  "width": 590, "height": 902,
  "title": {"text": "Catches of Pop1"},
  "data": {"name": "pop1"},
  "mark": {"type": "line", "color": "black", "strokeWidth": 2},
  "encoding": {
    "x": {"field": "t", "type": "quantitative", "scale": {"domain": [-3.76, 124.76], "nice": false, "zero": false}, "axis": {"values": [0,20,40,60,80,100,120], "format": "d", "title": "Time step"}},
    "y": {"field": "v", "type": "quantitative", "scale": {"domain": [-270, 7104], "nice": false, "zero": false}, "axis": {"values": [0,2000,4000,6000], "format": "d", "title": "Catch (kgs)"}},
    "strokeDash": {"field": "s", "type": "nominal",
      "scale": {"domain": ["no management","scenario 1","scenario 2","scenario 3"], "range": [[1,0],[2,7],[2,7,12,7],[24,6]]},
      "legend": {"orient": "none", "legendX": 514, "legendY": -122, "title": null, "symbolType": "M0.3,0H6.3", "symbolSize": 400, "symbolStrokeWidth": 2, "symbolStrokeColor": "black", "labelFontSize": 24, "labelColor": "black", "labelLimit": 400, "labelOffset": 77, "rowPadding": 2, "padding": 14, "strokeColor": "black", "fillColor": "white"}}
  }
},
{
  "width": 590, "height": 902,
  "title": {"text": "Catches of Pop2"},
  "data": {"name": "pop2"},
  "mark": {"type": "line", "color": "black", "strokeWidth": 2},
  "encoding": {
    "x": {"field": "t", "type": "quantitative", "scale": {"domain": [-3.76, 124.76], "nice": false, "zero": false}, "axis": {"values": [0,20,40,60,80,100,120], "format": "d", "title": "Time step"}},
    "y": {"field": "v", "type": "quantitative", "scale": {"domain": [-716, 18860], "nice": false, "zero": false}, "axis": {"values": [0,5000,10000,15000], "format": "d", "title": "Catch (kgs)"}},
    "strokeDash": {"field": "s", "type": "nominal",
      "scale": {"domain": ["no management","scenario 1","scenario 2","scenario 3"], "range": [[1,0],[2,7],[2,7,12,7],[24,6]]},
      "legend": {"orient": "none", "legendX": 514, "legendY": -122, "title": null, "symbolType": "M0.3,0H6.3", "symbolSize": 400, "symbolStrokeWidth": 2, "symbolStrokeColor": "black", "labelFontSize": 24, "labelColor": "black", "labelLimit": 400, "labelOffset": 77, "rowPadding": 2, "padding": 14, "strokeColor": "black", "fillColor": "white"}}
  }
}
]
}
